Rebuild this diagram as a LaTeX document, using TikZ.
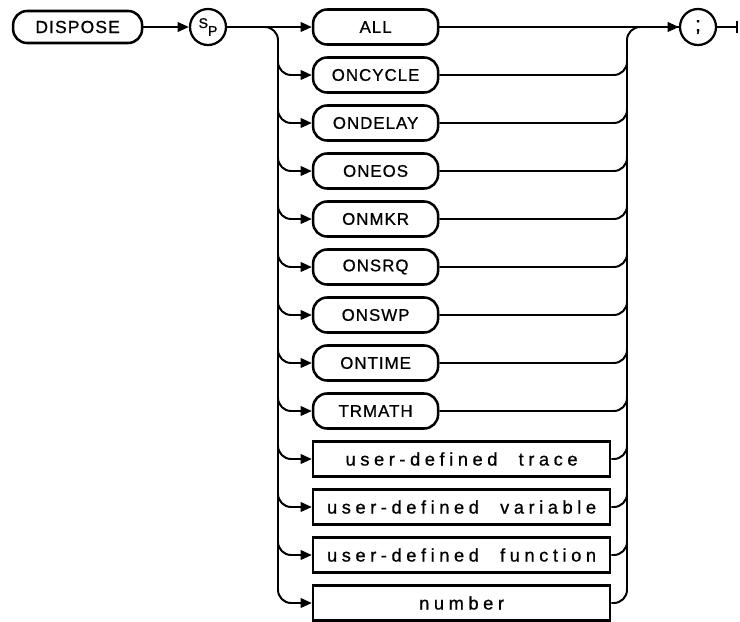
\documentclass[tikz,border=0pt]{standalone}
\usepackage{fontspec}
\setmainfont{Liberation Sans}
\newfontfamily\kwfont[LetterSpace=6, FakeBold=0.8]{Liberation Sans}
\newfontfamily\itemfont[LetterSpace=25, WordSpace=2.2, FakeBold=0.8]{Liberation Sans}
\usepackage{tikz}
\usetikzlibrary{arrows.meta, positioning, calc}

\begin{document}
\begin{tikzpicture}[
  kwbox/.style={draw, line width=1.8pt, rounded corners=0.35cm, minimum width=3.125cm, minimum height=0.875cm, inner sep=0pt, font=\kwfont\fontsize{12}{14}\selectfont},
  itembox/.style={draw, line width=1.8pt, minimum width=7.425cm, minimum height=0.875cm, inner sep=0pt, font=\itemfont\fontsize{13}{15}\selectfont},
  rnode/.style={draw, circle, line width=1.6pt, minimum size=0.9cm, inner sep=0pt},
  flow/.style={line width=1.4pt, rounded corners=0.33cm, -{Triangle[length=2.8mm, width=2.4mm]}},
  wire/.style={line width=1.4pt, rounded corners=0.33cm}
]
  \useasboundingbox (0,0) rectangle (18.5,-15.525);

  \node[kwbox, minimum width=3.225cm, minimum height=0.8cm, font=\kwfont\fontsize{12.5}{14}\selectfont] (dispose) at (1.94,-0.675) {DISPOSE};
  \node[rnode, font=\kwfont\fontsize{10}{12}\selectfont] (sp) at (5.2,-0.675) {\raisebox{0.45ex}{S}\raisebox{-0.6ex}{P}};
  \node[rnode, font=\kwfont\fontsize{15}{17}\selectfont] (semi) at (17.45,-0.675) {;};

  \node[kwbox] (all) at (9.39,-0.675) {ALL};
  \node[kwbox] (oncycle) at (9.39,-1.875) {ONCYCLE};
  \node[kwbox] (ondelay) at (9.39,-3.075) {ONDELAY};
  \node[kwbox] (oneos) at (9.39,-4.275) {ONEOS};
  \node[kwbox] (onmkr) at (9.39,-5.475) {ONMKR};
  \node[kwbox] (onsrq) at (9.39,-6.675) {ONSRQ};
  \node[kwbox] (onswp) at (9.39,-7.875) {ONSWP};
  \node[kwbox] (ontime) at (9.39,-9.075) {ONTIME};
  \node[kwbox] (trmath) at (9.39,-10.275) {TRMATH};
  \node[itembox] (trace) at (11.54,-11.475) {user-defined trace};
  \node[itembox] (variable) at (11.54,-12.675) {user-defined variable};
  \node[itembox] (function) at (11.54,-13.875) {user-defined function};
  \node[itembox] (number) at (11.54,-15.075) {number};

  \coordinate (ltop) at (6.95,-1.2);
  \coordinate (rtop) at (15.675,-1.2);
  \coordinate (exit) at (18.45,-0.675);

  \draw[flow] (dispose) -- (sp);
  \draw[flow] (sp) -- (all);
  \draw[flow] (all) -- (semi);
  \draw[wire, -{Bar[width=3.2mm]}] (semi) -- (exit);

  \draw[flow] (sp.east) -| (ltop |- number.west) -- (number.west);
  \draw[flow] (ltop) |- (oncycle.west);
  \draw[flow] (ltop) |- (ondelay.west);
  \draw[flow] (ltop) |- (oneos.west);
  \draw[flow] (ltop) |- (onmkr.west);
  \draw[flow] (ltop) |- (onsrq.west);
  \draw[flow] (ltop) |- (onswp.west);
  \draw[flow] (ltop) |- (ontime.west);
  \draw[flow] (ltop) |- (trmath.west);
  \draw[flow] (ltop) |- (trace.west);
  \draw[flow] (ltop) |- (variable.west);
  \draw[flow] (ltop) |- (function.west);

  \draw[wire] (number.east) -| (rtop |- all.east) -- (semi.west);
  \draw[wire] (oncycle.east) -| (rtop);
  \draw[wire] (ondelay.east) -| (rtop);
  \draw[wire] (oneos.east) -| (rtop);
  \draw[wire] (onmkr.east) -| (rtop);
  \draw[wire] (onsrq.east) -| (rtop);
  \draw[wire] (onswp.east) -| (rtop);
  \draw[wire] (ontime.east) -| (rtop);
  \draw[wire] (trmath.east) -| (rtop);
  \draw[wire] (trace.east) -| (rtop);
  \draw[wire] (variable.east) -| (rtop);
  \draw[wire] (function.east) -| (rtop);
\end{tikzpicture}
\end{document}
